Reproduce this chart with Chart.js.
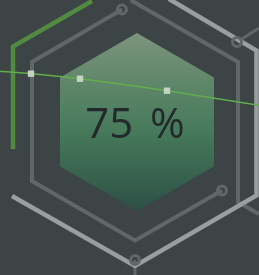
<!DOCTYPE html>
<html>
<head>
<meta charset="utf-8">
<script src="https://cdn.jsdelivr.net/npm/chart.js@4/dist/chart.umd.min.js"></script>
<style>
  html, body { margin: 0; padding: 0; background: #3c4446; }
  .chartContainer { width: 259px; height: 275px; position: relative; }
</style>
</head>
<body>
<div class="chartContainer"><canvas id="gauge"></canvas></div>
<script>
// gauge value and the thin trend line across it
const gaugeValue = 75;
const gaugeLabel = gaugeValue + ' %';
const trendX = [0, 31, 80, 167, 259];
const trendY = [71.3, 73.7, 78.7, 90.7, 105.3];
const trendMarker = [false, true, true, true, false];

// decoration outlines (x, y in px units of the 259x275 frame)
const hexFill = [[137, 33], [214, 77.5], [214, 166.5], [137, 211], [60, 166.5], [60, 77.5], [137, 33]];
const grayLeft = [[122, 9.5], [32, 62], [32, 181], [135, 240.5], [222, 190.5]];
const grayRight = [[130.5, 0], [238, 62], [238, 202], [259, 214]];
const grayBranch = [[237, 42], [259, 28]];
const grayStub = [[135, 260], [135, 276]];
const lightEdge = [[169, -1], [256.5, 50.5], [256.5, 195.5], [135, 266], [12, 196]];
const greenEdge = [[92, 1], [13, 46.5], [13, 149]];
const rings = [[122, 9.5], [237, 42], [222, 190.5], [135, 260]];

const pts = arr => arr.map(([x, y]) => ({ x, y }));

const GRAY = '#5f6769';
const LIGHT = '#999f9f';

const outline = (data, color, width, order) => ({
  data: pts(data),
  showLine: true,
  borderColor: color,
  borderWidth: width,
  borderJoinStyle: 'miter',
  borderCapStyle: 'butt',
  pointRadius: 0,
  fill: false,
  clip: 10,
  order: order,
});

// text in the middle of the hexagon
const labelPlugin = {
  id: 'gaugeLabel',
  afterDatasetsDraw(chart) {
    const { ctx, scales } = chart;
    ctx.save();
    ctx.fillStyle = '#242a2b';
    ctx.font = '42px "Open Sans"';
    ctx.textAlign = 'center';
    ctx.textBaseline = 'alphabetic';
    if ('wordSpacing' in ctx) ctx.wordSpacing = '6px';
    ctx.fillText(gaugeLabel, scales.x.getPixelForValue(135), scales.y.getPixelForValue(138));
    ctx.restore();
  }
};

new Chart(document.getElementById('gauge'), {
  type: 'scatter',
  data: {
    datasets: [
      {
        data: trendX.map((x, i) => ({ x, y: trendY[i] })),
        showLine: true,
        borderColor: '#62ad4c',
        borderWidth: 1.5,
        tension: 0.3,
        pointStyle: 'rect',
        pointRadius: trendMarker.map(m => (m ? 4.5 : 0)),
        pointBackgroundColor: '#c4d4c1',
        pointBorderWidth: 0,
        order: 0,
      },
      {
        data: pts(rings),
        pointStyle: 'circle',
        pointRadius: 4.5,
        pointBorderWidth: 3,
        pointBorderColor: GRAY,
        pointBackgroundColor: 'rgba(0,0,0,0)',
        clip: 10,
        order: 1,
      },
      outline(lightEdge, LIGHT, 4.5, 2),
      outline(greenEdge, '#518a40', 4.5, 2),
      outline(grayLeft, GRAY, 4, 3),
      outline(grayRight, GRAY, 4, 3),
      outline(grayBranch, GRAY, 3, 3),
      outline(grayStub, GRAY, 3, 3),
      {
        data: pts(hexFill),
        showLine: true,
        borderWidth: 0,
        pointRadius: 0,
        fill: 'shape',
        backgroundColor: (context) => {
          const chart = context.chart;
          if (!chart.chartArea) return '#4a7a5a';
          const y = chart.scales.y;
          const g = chart.ctx.createLinearGradient(0, y.getPixelForValue(33), 0, y.getPixelForValue(211));
          g.addColorStop(0, '#7d957e');
          g.addColorStop(0.25, '#62886c');
          g.addColorStop(0.55, '#467a5a');
          g.addColorStop(1, '#2d4f45');
          return g;
        },
        order: 5,
      },
    ],
  },
  options: {
    responsive: true,
    maintainAspectRatio: false,
    animation: false,
    events: [],
    layout: { padding: 0, autoPadding: false },
    plugins: {
      legend: { display: false },
      tooltip: { enabled: false },
    },
    scales: {
      x: { type: 'linear', min: 0, max: 259, display: false },
      y: { type: 'linear', min: 0, max: 275, reverse: true, display: false },
    },
  },
  plugins: [labelPlugin],
});
</script>
</body>
</html>
